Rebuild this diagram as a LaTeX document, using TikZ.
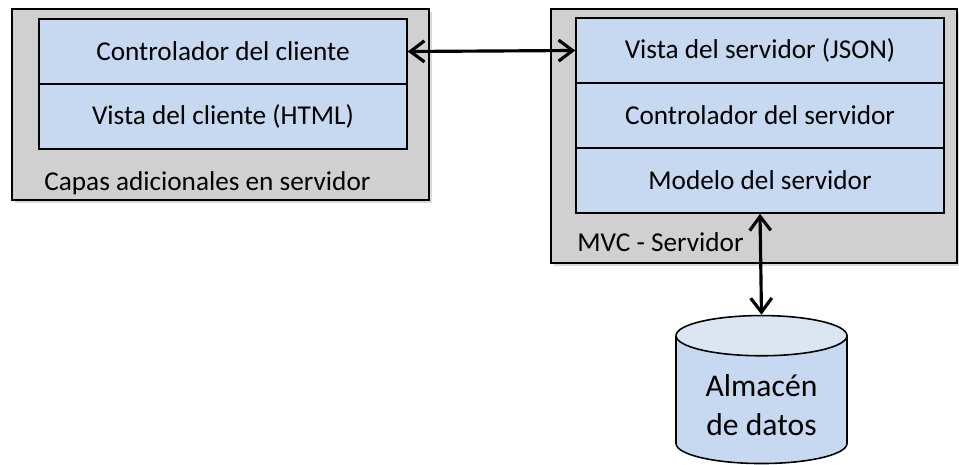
\documentclass[tikz,border=0pt]{standalone}
\usepackage{fontspec}
\setmainfont{Carlito}
\usetikzlibrary{shapes.geometric,shadows,arrows.meta}

\definecolor{capagris}{HTML}{D0D0D0}
\definecolor{capaazul}{HTML}{C6D9F0}
\definecolor{tapaazul}{HTML}{DCE6F2}

\tikzset{
  contenedor/.style={draw, line width=0.9pt, fill=capagris, minimum width=#1,
    minimum height=5.08cm, inner sep=0pt,
    drop shadow={shadow xshift=1.5pt, shadow yshift=-1.5pt, opacity=0.3}},
  capa/.style={draw, line width=0.9pt, fill=capaazul, minimum width=7.36cm,
    minimum height=1.3cm, inner sep=0pt, font=\fontsize{15.5}{18}\selectfont},
  etiqueta/.style={anchor=west, inner sep=0pt, font=\fontsize{15.5}{18}\selectfont},
  flecha/.style={{Straight Barb[length=8pt,width=12pt]}-{Straight Barb[length=8pt,width=12pt]},
    line width=1.8pt},
}

\begin{document}
\begin{tikzpicture}[x=0.02cm, y=-0.02cm]
        \useasboundingbox (0,0) rectangle (959,465);
        % contenedores grises
        \node[contenedor=8.34cm, minimum height=3.82cm] (adic) at (220.5,104.5) {};
        \node[contenedor=8.12cm] (mvc) at (754,136) {};
        % capas del cliente
        \node[capa] (ccli) at (223,51.5) {Controlador del cliente};
        \node[capa] (vcli) at (223,116.5) {Vista del cliente (HTML)};
        \node[etiqueta] (ladic) at (44,183) {Capas adicionales en servidor};
        % capas del servidor
        \node[capa] (vser) at (760,50.5) {Vista del servidor (JSON)};
        \node[capa] (cser) at (760,115.5) {Controlador del servidor};
        \node[capa] (mser) at (760,180.5) {Modelo del servidor};
        \node[etiqueta] (lmvc) at (577,242) {MVC - Servidor};
        % base de datos
        \node[cylinder, shape border rotate=90, aspect=0.36, draw, line width=0.9pt,
              cylinder uses custom fill, cylinder body fill=capaazul, cylinder end fill=tapaazul,
              minimum width=3.42cm, minimum height=2.96cm, inner sep=0pt, align=center,
              font=\fontsize{18}{22.5}\selectfont] (datos) at (761.5,400) {\\[-4pt]Almacén\\de datos};
        \draw[flecha] (ccli.east) -- (vser.west);
        \draw[flecha] (mser.south) -- (datos.north);
    \end{tikzpicture}
\end{document}
